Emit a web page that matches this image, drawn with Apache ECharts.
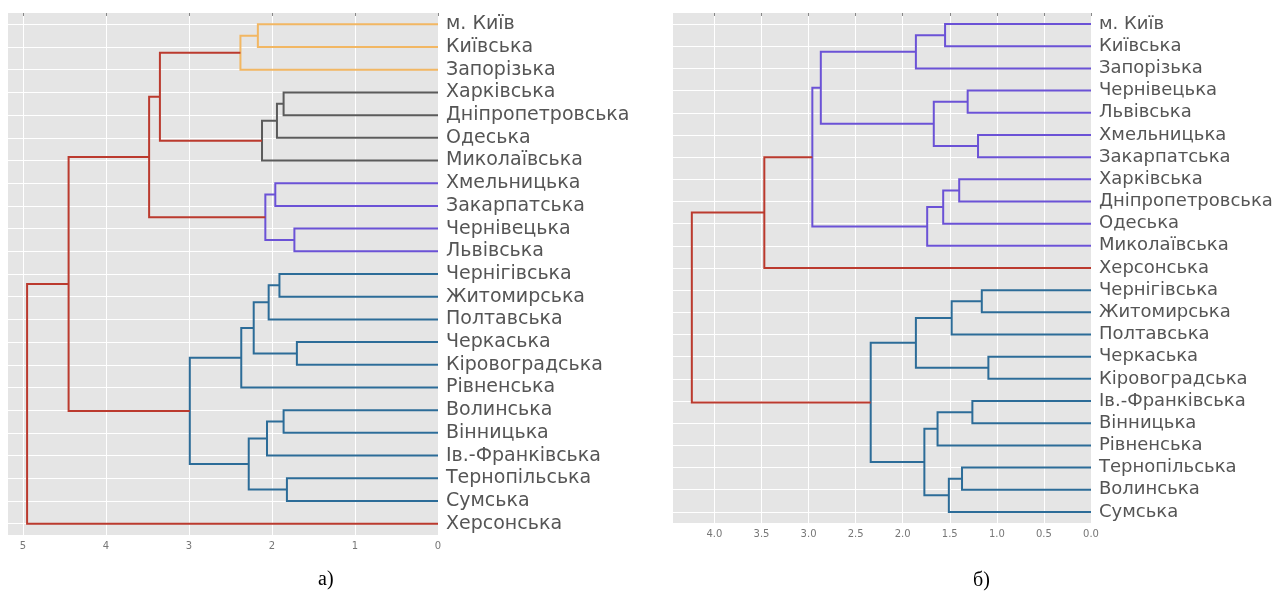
<!DOCTYPE html>
<html>
<head>
<meta charset="utf-8">
<script src="https://cdn.jsdelivr.net/npm/echarts@6/dist/echarts.min.js"></script>
<style>
html, body { margin: 0; padding: 0; background: #fff; }
#chart { width: 1282px; height: 599px; }
</style>
</head>
<body>
<div id="chart"></div>
<script>
// а) leaves, top to bottom
var leftLabels = ['м. Київ', 'Київська', 'Запорізька', 'Харківська', 'Дніпропетровська', 'Одеська',
	'Миколаївська', 'Хмельницька', 'Закарпатська', 'Чернівецька', 'Львівська', 'Чернігівська',
	'Житомирська', 'Полтавська', 'Черкаська', 'Кіровоградська', 'Рівненська', 'Волинська',
	'Вінницька', 'Ів.-Франківська', 'Тернопільська', 'Сумська', 'Херсонська'];
// merges: [child a, child b, height, colour group]; ids >= 23 are earlier merges (23 + row)
var leftMerges = [
	[0, 1, 2.17, 'y'],      // 23
	[23, 2, 2.38, 'y'],     // 24
	[3, 4, 1.86, 'g'],      // 25
	[25, 5, 1.94, 'g'],     // 26
	[26, 6, 2.12, 'g'],     // 27
	[24, 27, 3.35, 'r'],    // 28
	[7, 8, 1.96, 'p'],      // 29
	[9, 10, 1.73, 'p'],     // 30
	[29, 30, 2.08, 'p'],    // 31
	[28, 31, 3.48, 'r'],    // 32
	[11, 12, 1.91, 'b'],    // 33
	[33, 13, 2.04, 'b'],    // 34
	[14, 15, 1.70, 'b'],    // 35
	[34, 35, 2.22, 'b'],    // 36
	[36, 16, 2.37, 'b'],    // 37
	[17, 18, 1.86, 'b'],    // 38
	[38, 19, 2.06, 'b'],    // 39
	[20, 21, 1.82, 'b'],    // 40
	[39, 40, 2.28, 'b'],    // 41
	[37, 41, 2.99, 'b'],    // 42
	[32, 42, 4.45, 'r'],    // 43
	[43, 22, 4.95, 'r']     // 44
];
var leftTicks = [0, 1, 2, 3, 4, 5];

// б)
var rightLabels = ['м. Київ', 'Київська', 'Запорізька', 'Чернівецька', 'Львівська', 'Хмельницька',
	'Закарпатська', 'Харківська', 'Дніпропетровська', 'Одеська', 'Миколаївська', 'Херсонська',
	'Чернігівська', 'Житомирська', 'Полтавська', 'Черкаська', 'Кіровоградська', 'Ів.-Франківська',
	'Вінницька', 'Рівненська', 'Тернопільська', 'Волинська', 'Сумська'];
var rightMerges = [
	[0, 1, 1.55, 'p'],      // 23
	[23, 2, 1.86, 'p'],     // 24
	[3, 4, 1.31, 'p'],      // 25
	[5, 6, 1.20, 'p'],      // 26
	[25, 26, 1.67, 'p'],    // 27
	[24, 27, 2.87, 'p'],    // 28
	[7, 8, 1.40, 'p'],      // 29
	[29, 9, 1.57, 'p'],     // 30
	[30, 10, 1.74, 'p'],    // 31
	[28, 31, 2.96, 'p'],    // 32
	[32, 11, 3.47, 'r'],    // 33
	[12, 13, 1.16, 'b'],    // 34
	[34, 14, 1.48, 'b'],    // 35
	[15, 16, 1.09, 'b'],    // 36
	[35, 36, 1.86, 'b'],    // 37
	[17, 18, 1.26, 'b'],    // 38
	[38, 19, 1.63, 'b'],    // 39
	[20, 21, 1.37, 'b'],    // 40
	[40, 22, 1.51, 'b'],    // 41
	[39, 41, 1.77, 'b'],    // 42
	[37, 42, 2.34, 'b'],    // 43
	[33, 43, 4.24, 'r']     // 44
];
var rightTicks = [0, 0.5, 1, 1.5, 2, 2.5, 3, 3.5, 4];

var colours = { y: '#f2b763', g: '#5b5b5b', p: '#6b52d6', b: '#2c6c98', r: '#bb3a2e' };

// turn a linkage table into U-shaped links [x0,y0,x1,y1,x2,y2,x3,y3,colour]
function buildLinks(n, merges){
	var pos = [], hgt = [];
	for (var i = 0; i < n; i++) { pos.push(i + 0.5); hgt.push(0); }
	var links = [];
	merges.forEach(function(m){
		var a = m[0], b = m[1], h = m[2];
		links.push([hgt[a], pos[a], h, pos[a], h, pos[b], hgt[b], pos[b], colours[m[3]]]);
		pos.push((pos[a] + pos[b]) / 2);
		hgt.push(h);
	});
	return links;
}

function renderLink(params, api){
	var pts = [];
	for (var k = 0; k < 4; k++) {
		pts.push(api.coord([api.value(k * 2), api.value(k * 2 + 1)]));
	}
	return {
		type: 'polyline',
		shape: { points: pts },
		style: { stroke: api.value(8), lineWidth: 2, fill: null }
	};
}

var chart = echarts.init(document.getElementById('chart'));

var gridBg = '#e5e5e5';

function xAxis(gi, maxV, interval, ticks, fmt){
	return {
		type: 'value', gridIndex: gi, min: 0, max: maxV, interval: interval, inverse: true,
		axisLine: { show: false },
		axisTick: { show: true, length: 3, customValues: ticks, lineStyle: { color: '#888' } },
		axisLabel: { customValues: ticks, color: '#777', fontFamily: 'DejaVu Sans', fontSize: 10, margin: 6, formatter: fmt },
		splitLine: { lineStyle: { color: '#fff', width: 1 } }
	};
}

// label axis; its inside ticks (centred on the leaves) act as the horizontal grid
function yLabelAxis(gi, labels, size, gridW){
	return {
		type: 'category', gridIndex: gi, data: labels, inverse: true, position: 'right',
		boundaryGap: true,
		axisLine: { show: false },
		axisTick: { show: true, inside: true, interval: 0, alignWithLabel: true, length: gridW, lineStyle: { color: '#fff', width: 1 } },
		axisLabel: { interval: 0, color: '#555', fontFamily: 'DejaVu Sans', fontSize: size, margin: 8 },
		splitLine: { show: false }
	};
}

function yDrawAxis(gi, n){
	return {
		type: 'value', gridIndex: gi, min: 0, max: n, inverse: true, show: false,
		splitLine: { show: false }
	};
}

var option = {
	animation: false,
	grid: [
		{ left: 8, right: 844, top: 13, bottom: 64, show: true, backgroundColor: gridBg, borderWidth: 0 },
		{ left: 673, right: 191, top: 13, bottom: 76, show: true, backgroundColor: gridBg, borderWidth: 0 }
	],
	xAxis: [
		xAxis(0, 5.18, 1, leftTicks, function(v){ return String(v); }),
		xAxis(1, 4.44, 0.5, rightTicks, function(v){ return v.toFixed(1); })
	],
	yAxis: [
		yLabelAxis(0, leftLabels, 19, 430),
		yDrawAxis(0, leftLabels.length),
		yLabelAxis(1, rightLabels, 18, 418),
		yDrawAxis(1, rightLabels.length)
	],
	graphic: [
		{ type: 'text', left: 318, top: 570, style: { text: 'а)', fontFamily: 'Liberation Serif', fontSize: 20, fill: '#000' } },
		{ type: 'text', left: 973, top: 571, style: { text: 'б)', fontFamily: 'Liberation Serif', fontSize: 20, fill: '#000' } }
	],
	series: [
		{
			type: 'custom', xAxisIndex: 0, yAxisIndex: 1,
			renderItem: renderLink,
			data: buildLinks(leftLabels.length, leftMerges),
			encode: { x: [0, 2, 4, 6], y: [1, 3, 5, 7] }
		},
		{
			type: 'custom', xAxisIndex: 1, yAxisIndex: 3,
			renderItem: renderLink,
			data: buildLinks(rightLabels.length, rightMerges),
			encode: { x: [0, 2, 4, 6], y: [1, 3, 5, 7] }
		}
	]
};
chart.setOption(option);
</script>
</body>
</html>
